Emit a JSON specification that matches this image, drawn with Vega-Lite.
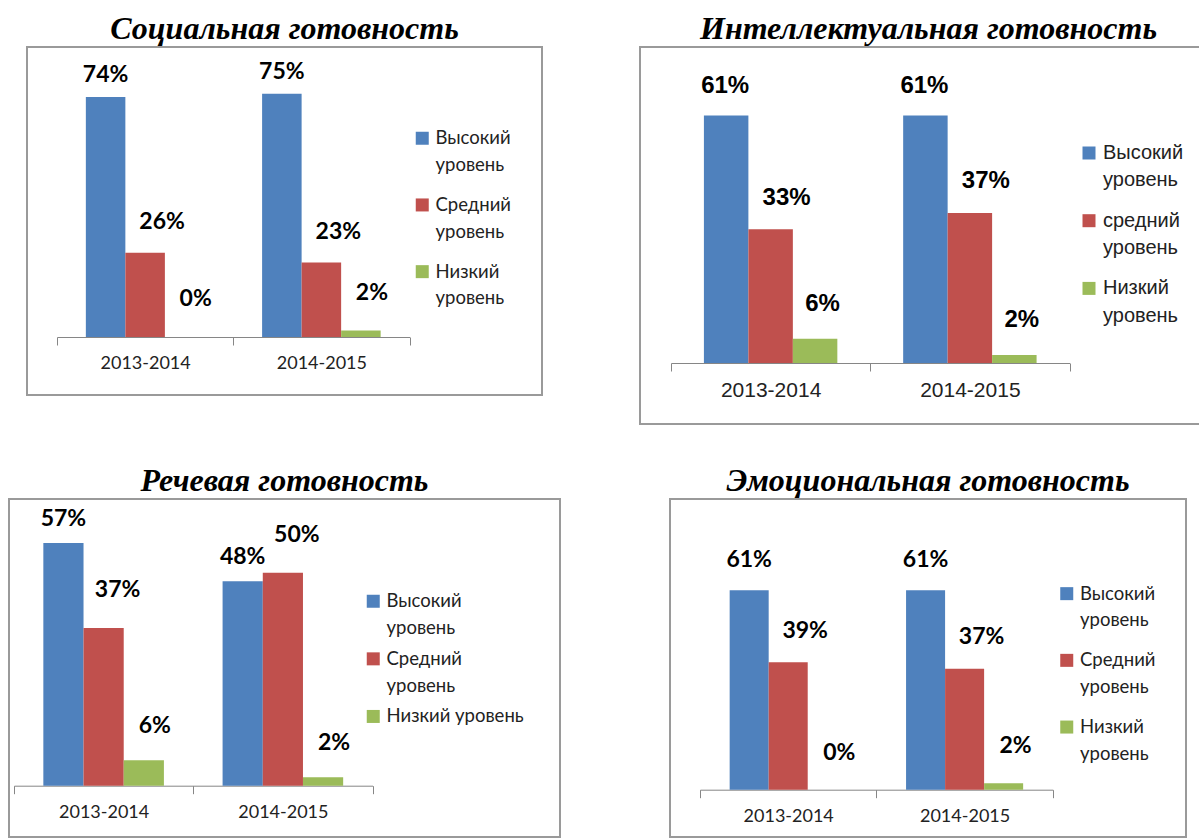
{
  "$schema": "https://vega.github.io/schema/vega-lite/v6.json",
  "background": "white",
  "padding": {"left": 8, "top": 12, "right": 0, "bottom": 0},
  "datasets": {
    "social": [
      {"year": "2013-2014", "level": "Высокий уровень", "value": 0.74},
      {"year": "2013-2014", "level": "Средний уровень", "value": 0.26},
      {"year": "2013-2014", "level": "Низкий уровень", "value": 0.0},
      {"year": "2014-2015", "level": "Высокий уровень", "value": 0.75},
      {"year": "2014-2015", "level": "Средний уровень", "value": 0.23},
      {"year": "2014-2015", "level": "Низкий уровень", "value": 0.02}
    ],
    "intel": [
      {"year": "2013-2014", "level": "Высокий уровень", "value": 0.61},
      {"year": "2013-2014", "level": "средний уровень", "value": 0.33},
      {"year": "2013-2014", "level": "Низкий уровень", "value": 0.06},
      {"year": "2014-2015", "level": "Высокий уровень", "value": 0.61},
      {"year": "2014-2015", "level": "средний уровень", "value": 0.37},
      {"year": "2014-2015", "level": "Низкий уровень", "value": 0.02}
    ],
    "speech": [
      {"year": "2013-2014", "level": "Высокий уровень", "value": 0.57},
      {"year": "2013-2014", "level": "Средний уровень", "value": 0.37},
      {"year": "2013-2014", "level": "Низкий уровень", "value": 0.06},
      {"year": "2014-2015", "level": "Высокий уровень", "value": 0.48},
      {"year": "2014-2015", "level": "Средний уровень", "value": 0.50},
      {"year": "2014-2015", "level": "Низкий уровень", "value": 0.02}
    ],
    "emo": [
      {"year": "2013-2014", "level": "Высокий уровень", "value": 0.61},
      {"year": "2013-2014", "level": "Средний уровень", "value": 0.39},
      {"year": "2013-2014", "level": "Низкий уровень", "value": 0.0},
      {"year": "2014-2015", "level": "Высокий уровень", "value": 0.61},
      {"year": "2014-2015", "level": "Средний уровень", "value": 0.37},
      {"year": "2014-2015", "level": "Низкий уровень", "value": 0.02}
    ]
  },
  "config": {
    "view": {"stroke": "#9a9a9a", "strokeWidth": 2},
    "axis": {"grid": false}
  },
  "resolve": {"scale": {"color": "independent", "xOffset": "independent", "x": "independent", "y": "independent"}, "legend": {"color": "independent"}},
  "vconcat": [
    {
      "resolve": {"scale": {"color": "independent", "xOffset": "independent", "x": "independent", "y": "independent"}, "legend": {"color": "independent"}},
      "hconcat": [
        {
          "width": 17, "height": 1,
          "data": {"values": [{"a": 1}]},
          "mark": {"type": "point", "opacity": 0},
          "encoding": {},
          "view": {"stroke": null}
        },
        {
          "resolve": {"scale": {"color": "independent", "xOffset": "independent", "x": "independent", "y": "independent"}, "legend": {"color": "independent"}},
          "hconcat": [
            {
              "width": 515, "height": 348,
              "title": {"text": "Социальная готовность", "font": "Liberation Serif", "fontSize": 32, "fontWeight": "bold", "fontStyle": "italic", "color": "black", "offset": 1, "baseline": "top", "anchor": "middle"},
              "data": {"name": "social"},
              "encoding": {
                "x": {"field": "year", "type": "nominal", "scale": {"range": [30, 382.5], "paddingInner": 0, "paddingOuter": 0},
                  "axis": {"title": null, "labelAngle": 0, "offset": -58, "tickBand": "extent", "tickSize": 8, "domainColor": "#868686", "tickColor": "#868686", "labelFont": "Lato", "labelFontSize": 18, "labelColor": "#222", "labelBaseline": "middle", "labelPadding": 18}},
                "xOffset": {"field": "level", "type": "nominal", "sort": ["Высокий уровень", "Средний уровень", "Низкий уровень"], "scale": {"paddingInner": 0, "paddingOuter": 0.73}},
                "y": {"field": "value", "type": "quantitative", "scale": {"domain": [0, 0.894], "range": [290, 0], "nice": false}, "axis": null}
              },
              "layer": [
                {
                  "mark": {"type": "bar"},
                  "encoding": {
                    "color": {"field": "level", "type": "nominal",
                      "scale": {"domain": ["Высокий уровень", "Средний уровень", "Низкий уровень"], "range": ["#4F81BD", "#C0504D", "#9BBB59"]},
                      "legend": {"orient": "none", "legendX": 386, "legendY": 82, "title": null, "symbolType": "square", "symbolSize": 169, "symbolStrokeWidth": 0, "labelFont": "Lato", "labelFontSize": 18.5, "labelColor": "#222", "labelOffset": 4, "rowPadding": 20.7, "padding": 0, "labelLimit": 300, "labelExpr": "split(datum.label, ' ')", "encoding": {"labels": {"lineHeight": {"value": 26.7}}}}}
                  }
                },
                {"transform": [{"filter": "datum.level == 'Высокий уровень'"}], "mark": {"type": "text", "font": "Lato", "fontWeight": "bold", "fontSize": 23, "color": "black", "baseline": "middle", "dx": 0, "dy": -22}, "encoding": {"text": {"field": "value", "type": "quantitative", "format": ".0%"}}},
                {"transform": [{"filter": "datum.level == 'Средний уровень'"}], "mark": {"type": "text", "font": "Lato", "fontWeight": "bold", "fontSize": 23, "color": "black", "baseline": "middle", "dx": 17, "dy": -30.5}, "encoding": {"text": {"field": "value", "type": "quantitative", "format": ".0%"}}},
                {"transform": [{"filter": "datum.level == 'Низкий уровень'"}], "mark": {"type": "text", "font": "Lato", "fontWeight": "bold", "fontSize": 23, "color": "black", "baseline": "middle", "dx": 11, "dy": -38}, "encoding": {"text": {"field": "value", "type": "quantitative", "format": ".0%"}}}
              ]
            },
            {
              "width": 561, "height": 377,
              "title": {"text": "Интеллектуальная готовность", "font": "Liberation Serif", "fontSize": 32, "fontWeight": "bold", "fontStyle": "italic", "color": "black", "offset": 1, "baseline": "top", "anchor": "middle", "dx": 8},
              "data": {"name": "intel"},
              "encoding": {
                "x": {"field": "year", "type": "nominal", "scale": {"range": [31, 429.5], "paddingInner": 0, "paddingOuter": 0},
                  "axis": {"title": null, "labelAngle": 0, "offset": -61, "tickBand": "extent", "tickSize": 8, "domainColor": "#868686", "tickColor": "#868686", "labelFont": "Liberation Sans", "labelFontSize": 21, "labelColor": "#222", "labelBaseline": "middle", "labelPadding": 19}},
                "xOffset": {"field": "level", "type": "nominal", "sort": ["Высокий уровень", "средний уровень", "Низкий уровень"], "scale": {"paddingInner": 0, "paddingOuter": 0.74}},
                "y": {"field": "value", "type": "quantitative", "scale": {"domain": [0, 0.779], "range": [316, 0], "nice": false}, "axis": null}
              },
              "layer": [
                {
                  "mark": {"type": "bar"},
                  "encoding": {
                    "color": {"field": "level", "type": "nominal",
                      "scale": {"domain": ["Высокий уровень", "средний уровень", "Низкий уровень"], "range": ["#4F81BD", "#C0504D", "#9BBB59"]},
                      "legend": {"orient": "none", "legendX": 439, "legendY": 96, "title": null, "symbolType": "square", "symbolSize": 169, "symbolStrokeWidth": 0, "labelFont": "Liberation Sans", "labelFontSize": 20, "labelColor": "#222", "labelOffset": 4, "rowPadding": 19.7, "padding": 0, "labelLimit": 300, "labelExpr": "split(datum.label, ' ')", "encoding": {"labels": {"lineHeight": {"value": 27.3}}}}}
                  }
                },
                {"transform": [{"filter": "datum.level == 'Высокий уровень'"}], "mark": {"type": "text", "font": "Liberation Sans", "fontWeight": "bold", "fontSize": 24, "color": "black", "baseline": "middle", "dx": -1, "dy": -29.5}, "encoding": {"text": {"field": "value", "type": "quantitative", "format": ".0%"}}},
                {"transform": [{"filter": "datum.level == 'средний уровень'"}], "mark": {"type": "text", "font": "Liberation Sans", "fontWeight": "bold", "fontSize": 24, "color": "black", "baseline": "middle", "dx": 16, "dy": -31.5}, "encoding": {"text": {"field": "value", "type": "quantitative", "format": ".0%"}}},
                {"transform": [{"filter": "datum.level == 'Низкий уровень'"}], "mark": {"type": "text", "font": "Liberation Sans", "fontWeight": "bold", "fontSize": 24, "color": "black", "baseline": "middle", "dx": 7.5, "dy": -35}, "encoding": {"text": {"field": "value", "type": "quantitative", "format": ".0%"}}}
              ]
            }
          ],
          "spacing": 96
        }
      ],
      "spacing": 0
    },
    {
      "resolve": {"scale": {"color": "independent", "xOffset": "independent", "x": "independent", "y": "independent"}, "legend": {"color": "independent"}},
      "hconcat": [
        {
          "width": 551, "height": 338,
          "title": {"text": "Речевая готовность", "font": "Liberation Serif", "fontSize": 32, "fontWeight": "bold", "fontStyle": "italic", "color": "black", "offset": 1, "baseline": "top", "anchor": "middle"},
          "data": {"name": "speech"},
          "encoding": {
            "x": {"field": "year", "type": "nominal", "scale": {"range": [5, 363.5], "paddingInner": 0, "paddingOuter": 0},
              "axis": {"title": null, "labelAngle": 0, "offset": -51.3, "tickBand": "extent", "tickSize": 8, "domainColor": "#868686", "tickColor": "#868686", "labelFont": "Lato", "labelFontSize": 18, "labelColor": "#222", "labelBaseline": "middle", "labelPadding": 18.5}},
            "xOffset": {"field": "level", "type": "nominal", "sort": ["Высокий уровень", "Средний уровень", "Низкий уровень"], "scale": {"paddingInner": 0, "paddingOuter": 0.73}},
            "y": {"field": "value", "type": "quantitative", "scale": {"domain": [0, 0.673], "range": [286.7, 0], "nice": false}, "axis": null}
          },
          "layer": [
            {
              "mark": {"type": "bar"},
              "encoding": {
                "color": {"field": "level", "type": "nominal",
                  "scale": {"domain": ["Высокий уровень", "Средний уровень", "Низкий уровень"], "range": ["#4F81BD", "#C0504D", "#9BBB59"]},
                  "legend": {"orient": "none", "legendX": 355, "legendY": 93, "title": null, "symbolType": "square", "symbolSize": 169, "symbolStrokeWidth": 0, "labelFont": "Lato", "labelFontSize": 18.5, "labelColor": "#222", "labelOffset": 4, "rowPadding": 11.6, "padding": 0, "labelLimit": 300, "labelExpr": "datum.label == 'Низкий уровень' ? datum.label : split(datum.label, ' ')", "encoding": {"labels": {"lineHeight": {"value": 26.7}}}}}
              }
            },
            {"transform": [{"filter": "datum.level == 'Высокий уровень'"}], "mark": {"type": "text", "font": "Lato", "fontWeight": "bold", "fontSize": 23, "color": "black", "baseline": "middle", "dx": 0, "dy": -24}, "encoding": {"text": {"field": "value", "type": "quantitative", "format": ".0%"}}},
            {"transform": [{"filter": "datum.level == 'Средний уровень'"}], "mark": {"type": "text", "font": "Lato", "fontWeight": "bold", "fontSize": 23, "color": "black", "baseline": "middle", "dx": 14, "dy": -38}, "encoding": {"text": {"field": "value", "type": "quantitative", "format": ".0%"}}},
            {"transform": [{"filter": "datum.level == 'Низкий уровень'"}], "mark": {"type": "text", "font": "Lato", "fontWeight": "bold", "fontSize": 23, "color": "black", "baseline": "middle", "dx": 11, "dy": -34}, "encoding": {"text": {"field": "value", "type": "quantitative", "format": ".0%"}}}
          ]
        },
        {
          "width": 516, "height": 338,
          "title": {"text": "Эмоциональная готовность", "font": "Liberation Serif", "fontSize": 32, "fontWeight": "bold", "fontStyle": "italic", "color": "black", "offset": 1, "baseline": "top", "anchor": "middle"},
          "data": {"name": "emo"},
          "encoding": {
            "x": {"field": "year", "type": "nominal", "scale": {"range": [30, 382.8], "paddingInner": 0, "paddingOuter": 0},
              "axis": {"title": null, "labelAngle": 0, "offset": -47.3, "tickBand": "extent", "tickSize": 8, "domainColor": "#868686", "tickColor": "#868686", "labelFont": "Lato", "labelFontSize": 18, "labelColor": "#222", "labelBaseline": "middle", "labelPadding": 19}},
            "xOffset": {"field": "level", "type": "nominal", "sort": ["Высокий уровень", "Средний уровень", "Низкий уровень"], "scale": {"paddingInner": 0, "paddingOuter": 0.76}},
            "y": {"field": "value", "type": "quantitative", "scale": {"domain": [0, 0.8895], "range": [290.7, 0], "nice": false}, "axis": null}
          },
          "layer": [
            {
              "mark": {"type": "bar"},
              "encoding": {
                "color": {"field": "level", "type": "nominal",
                  "scale": {"domain": ["Высокий уровень", "Средний уровень", "Низкий уровень"], "range": ["#4F81BD", "#C0504D", "#9BBB59"]},
                  "legend": {"orient": "none", "legendX": 387.5, "legendY": 85.4, "title": null, "symbolType": "square", "symbolSize": 169, "symbolStrokeWidth": 0, "labelFont": "Lato", "labelFontSize": 18.5, "labelColor": "#222", "labelOffset": 4, "rowPadding": 20.7, "padding": 0, "labelLimit": 300, "labelExpr": "split(datum.label, ' ')", "encoding": {"labels": {"lineHeight": {"value": 26.7}}}}}
              }
            },
            {"transform": [{"filter": "datum.level == 'Высокий уровень'"}], "mark": {"type": "text", "font": "Lato", "fontWeight": "bold", "fontSize": 23, "color": "black", "baseline": "middle", "dx": 0, "dy": -30.7}, "encoding": {"text": {"field": "value", "type": "quantitative", "format": ".0%"}}},
            {"transform": [{"filter": "datum.level == 'Средний уровень'"}], "mark": {"type": "text", "font": "Lato", "fontWeight": "bold", "fontSize": 23, "color": "black", "baseline": "middle", "dx": 17, "dy": -31.5}, "encoding": {"text": {"field": "value", "type": "quantitative", "format": ".0%"}}},
            {"transform": [{"filter": "datum.level == 'Низкий уровень'"}], "mark": {"type": "text", "font": "Lato", "fontWeight": "bold", "fontSize": 23, "color": "black", "baseline": "middle", "dx": 12, "dy": -37}, "encoding": {"text": {"field": "value", "type": "quantitative", "format": ".0%"}}}
          ]
        }
      ],
      "spacing": 108
    }
  ],
  "spacing": 39
}
